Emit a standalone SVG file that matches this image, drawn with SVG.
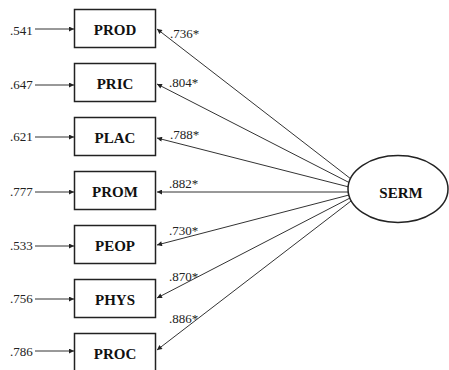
<svg xmlns="http://www.w3.org/2000/svg" width="449" height="370" viewBox="0 0 449 370">
<style>
.box{fill:#fff;stroke:#222;stroke-width:1.5}
.bl{font-family:"Liberation Serif",serif;font-weight:bold;font-size:15px;fill:#111;text-anchor:middle}
.num{font-family:"Liberation Serif",serif;font-size:13px;fill:#222}
.ln{stroke:#333;stroke-width:1;fill:none;marker-end:url(#ah)}
</style>
<defs>
<marker id="ah" viewBox="0 0 10 10" refX="10" refY="5" markerWidth="6" markerHeight="5" markerUnits="userSpaceOnUse" orient="auto">
<path d="M0,0 L10,5 L0,10 z" fill="#222"/>
</marker>
</defs>
<rect width="449" height="370" fill="#fff"/>
<g id="connectors">
<line class="ln" x1="35" y1="29" x2="74" y2="29"/>
<line class="ln" x1="35" y1="85" x2="74" y2="85"/>
<line class="ln" x1="35" y1="137" x2="74" y2="137"/>
<line class="ln" x1="35" y1="192" x2="74" y2="192"/>
<line class="ln" x1="35" y1="246" x2="74" y2="246"/>
<line class="ln" x1="35" y1="299" x2="74" y2="299"/>
<line class="ln" x1="35" y1="351" x2="74" y2="351"/>
<line class="ln" x1="351" y1="179" x2="157" y2="29"/>
<line class="ln" x1="350" y1="183" x2="157" y2="84"/>
<line class="ln" x1="349" y1="187" x2="157" y2="138"/>
<line class="ln" x1="349" y1="192" x2="157" y2="192"/>
<line class="ln" x1="349" y1="195" x2="157" y2="245"/>
<line class="ln" x1="350" y1="198" x2="157" y2="298"/>
<line class="ln" x1="351" y1="201" x2="157" y2="350"/>
</g>
<g id="err">
<text class="num" x="10" y="35">.541</text>
<text class="num" x="10" y="89">.647</text>
<text class="num" x="10" y="141">.621</text>
<text class="num" x="10" y="196">.777</text>
<text class="num" x="10" y="250">.533</text>
<text class="num" x="10" y="303">.756</text>
<text class="num" x="10" y="356">.786</text>
</g>
<g id="loadings">
<text class="num" x="170" y="38">.736*</text>
<text class="num" x="169" y="87">.804*</text>
<text class="num" x="170" y="139">.788*</text>
<text class="num" x="169" y="188">.882*</text>
<text class="num" x="169" y="235">.730*</text>
<text class="num" x="169" y="281">.870*</text>
<text class="num" x="169" y="323">.886*</text>
</g>
<g id="PROD"><rect class="box" x="74.5" y="9.5" width="81" height="38"/><text class="bl" x="115" y="35">PROD</text></g>
<g id="PRIC"><rect class="box" x="74.5" y="63.5" width="81" height="38"/><text class="bl" x="115" y="89">PRIC</text></g>
<g id="PLAC"><rect class="box" x="74.5" y="117.5" width="81" height="38"/><text class="bl" x="115" y="143">PLAC</text></g>
<g id="PROM"><rect class="box" x="74.5" y="171.5" width="81" height="38"/><text class="bl" x="115" y="197">PROM</text></g>
<g id="PEOP"><rect class="box" x="74.5" y="225.5" width="81" height="38"/><text class="bl" x="115" y="251">PEOP</text></g>
<g id="PHYS"><rect class="box" x="74.5" y="279.5" width="81" height="38"/><text class="bl" x="115" y="305">PHYS</text></g>
<g id="PROC"><rect class="box" x="74.5" y="333.5" width="81" height="38"/><text class="bl" x="115" y="359">PROC</text></g>
<g id="SERM"><ellipse class="box" cx="398" cy="189" rx="50" ry="33.5"/><text class="bl" x="401" y="198">SERM</text></g>
</svg>
